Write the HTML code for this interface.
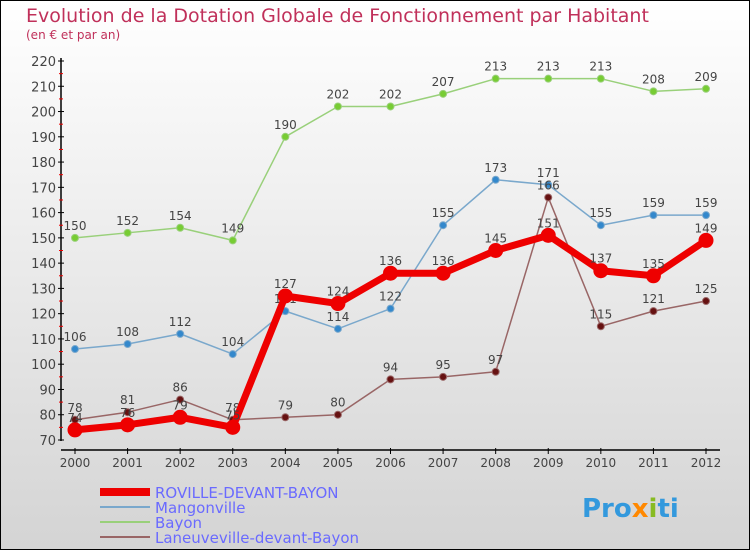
<!DOCTYPE html>
<html><head><meta charset="utf-8"><style>
body{margin:0}
#c{width:750px;height:550px;position:relative;overflow:hidden;font-family:"DejaVu Sans","Liberation Sans",sans-serif}
</style></head><body>
<div id="c">
<svg id="s" width="750" height="550" xmlns="http://www.w3.org/2000/svg">
<defs><linearGradient id="bg" x1="0" y1="0" x2="0" y2="1"><stop offset="0" stop-color="#ffffff"/><stop offset="1" stop-color="#d4d4d4"/></linearGradient></defs>
<rect x="0.5" y="0.5" width="749" height="549" fill="url(#bg)" stroke="#000"/>
<text x="26" y="22" font-size="19" fill="#c0305a">Evolution de la Dotation Globale de Fonctionnement par Habitant</text>
<text x="26" y="39" font-size="12" fill="#c0305a">(en € et par an)</text>
<g id="axes"></g><g id="series"></g>
<g>
<rect x="100" y="488" width="50" height="8" fill="#e00"/>
<text x="155" y="498" font-size="15" fill="#6a6aff">ROVILLE-DEVANT-BAYON</text>
<line x1="100" y1="507" x2="150" y2="507" stroke="#7aa8cc" stroke-width="2"/>
<text x="155" y="513" font-size="15" fill="#6a6aff">Mangonville</text>
<line x1="100" y1="522" x2="150" y2="522" stroke="#99d07a" stroke-width="2"/>
<text x="155" y="528" font-size="15" fill="#6a6aff">Bayon</text>
<line x1="100" y1="537" x2="150" y2="537" stroke="#996666" stroke-width="2"/>
<text x="155" y="543" font-size="15" fill="#6a6aff">Laneuveville-devant-Bayon</text>
</g>
<text x="582" y="517" font-size="26" font-weight="bold" fill="#3399dd">Pro<tspan fill="#ff8800">x</tspan><tspan fill="#88bb22">i</tspan>ti</text>
</svg></div>
<script>
const years=[2000,2001,2002,2003,2004,2005,2006,2007,2008,2009,2010,2011,2012];
const roville=[74,76,79,75,127,124,136,136,145,151,137,135,149];
const mangonville=[106,108,112,104,121,114,122,155,173,171,155,159,159];
const bayon=[150,152,154,149,190,202,202,207,213,213,213,208,209];
const laneuveville=[78,81,86,78,79,80,94,95,97,166,115,121,125];
const yTicks=[70,80,90,100,110,120,130,140,150,160,170,180,190,200,210,220];
const NS="http://www.w3.org/2000/svg";
const X=i=>75+i*(706-75)/12;
const Y=v=>440-(v-70)*(440-61)/150;
function mk(t,a,p){const e=document.createElementNS(NS,t);for(const k in a)e.setAttribute(k,a[k]);p.appendChild(e);return e;}
const ax=document.getElementById('axes');
let e=mk('line',{x1:61,y1:58,x2:61,y2:441,stroke:'#000','stroke-width':1.5},ax);


e=mk('line',{x1:61,y1:450,x2:720,y2:450,stroke:'#000','stroke-width':1.5},ax);


yTicks.forEach((v,i)=>{
  mk('line',{x1:58,y1:Y(v),x2:64,y2:Y(v),stroke:'#000'},ax);
  if(i<yTicks.length-1)mk('line',{x1:59,y1:Y(v+5),x2:63,y2:Y(v+5),stroke:'#e00'},ax);
  const t=mk('text',{x:56,y:Y(v)+5,'font-size':13,fill:'#444','text-anchor':'end'},ax);
  t.textContent=v;
  
  
});
years.forEach((y,i)=>{
  mk('line',{x1:X(i),y1:448,x2:X(i),y2:454,stroke:'#000'},ax);
  const t=mk('text',{x:X(i),y:467,'font-size':12,fill:'#444','text-anchor':'middle'},ax);
  t.textContent=y;
  
  
});
const sg=document.getElementById('series');
function draw(vals,name,color,w,r,fill,labels){
  const g=mk('g',{},sg);
  
  
  const pl=mk('polyline',{points:vals.map((v,i)=>X(i)+','+Y(v)).join(' '),fill:'none',stroke:color,'stroke-width':w,'stroke-linejoin':'round'},g);
  
  
  vals.forEach((v,i)=>{
    const c=mk('circle',{cx:X(i),cy:Y(v),r:r,fill:fill,stroke:color,'stroke-width':1},g);
    
    
    const t=mk('text',{x:X(i),y:Y(v)-8,'font-size':12,fill:'#444','text-anchor':'middle'},g);
    t.textContent=v;
    
    
  });
}
draw(bayon,'bayon','#99d07a',1.5,3.5,'#77cc33');
draw(mangonville,'mangonville','#7aa8cc',1.5,3.5,'#3388cc');
draw(laneuveville,'laneuveville','#996666',1.5,3.5,'#661111');
draw(roville,'roville','#ee0000',7,7,'#ee0000');
</script>
</body></html>
